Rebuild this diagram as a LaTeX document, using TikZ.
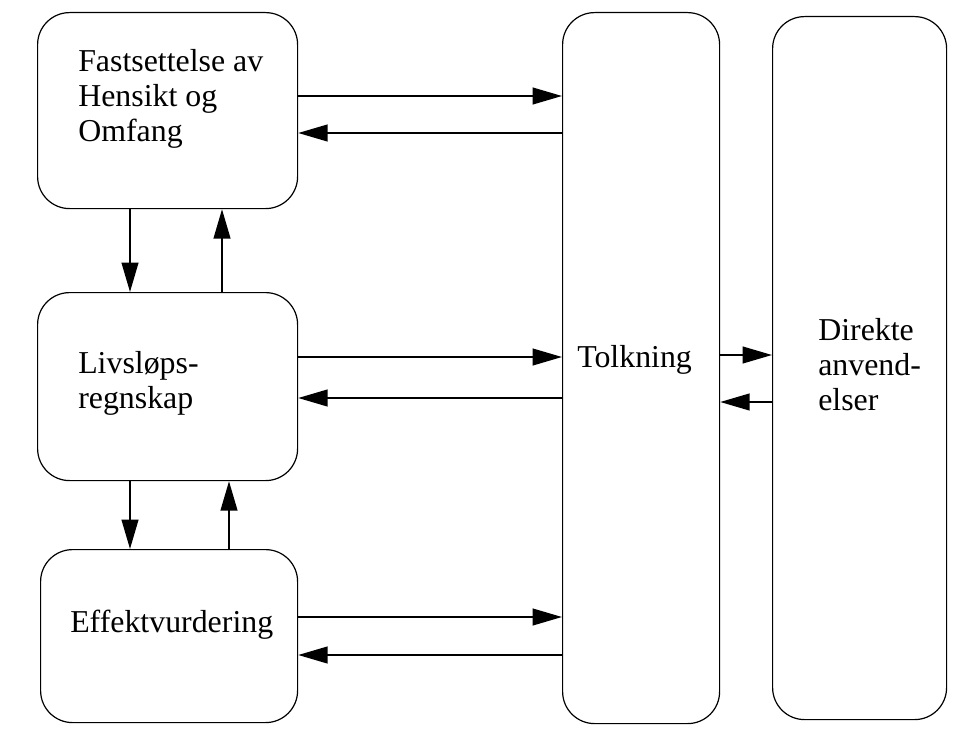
\documentclass[tikz,border=0pt]{standalone}
\usepackage{fontspec}
\setmainfont{Liberation Serif}
\usetikzlibrary{arrows.meta}
\begin{document}
\begin{tikzpicture}[x=0.75pt,y=-0.75pt,
  box/.style={draw, line width=0.9pt, rounded corners=24pt, inner sep=0pt, anchor=north west},
  lbl/.style={anchor=base west, inner sep=0pt, align=left, font=\fontsize{23.9}{26.25}\selectfont},
  arr/.style={line width=1.5pt, -{Triangle[length=22pt,width=12.5pt]}}]
\useasboundingbox (0,0) rectangle (978,742);
\node[box, minimum width=195pt, minimum height=147pt] (b1) at (37,12) {};
\node[box, minimum width=195pt, minimum height=141pt] (b2) at (37,292) {};
\node[box, minimum width=192.75pt, minimum height=129.75pt] (b3) at (40,549) {};
\node[box, minimum width=117.75pt, minimum height=533.25pt] (t) at (562,12) {};
\node[box, minimum width=130.5pt, minimum height=527.25pt] (d) at (772,16) {};
\node[lbl] (l1) at (78,142) {Fastsettelse av\\Hensikt og\\Omfang};
\node[lbl] (l2) at (78,408) {Livsløps-\\regnskap};
\node[lbl] (l3) at (70,632) {Effektvurdering};
\node[lbl] (l4) at (577,367) {Tolkning};
\node[lbl] (l5) at (818,410) {Direkte\\anvend-\\elser};
% horizontal arrows
\draw[arr] (b1.east |- 0,96) -- (t.west |- 0,96);
\draw[arr] (t.west |- 0,133) -- (b1.east |- 0,133);
\draw[arr] (b2.east |- 0,357) -- (t.west |- 0,357);
\draw[arr] (t.west |- 0,398) -- (b2.east |- 0,398);
\draw[arr] (b3.east |- 0,617) -- (t.west |- 0,617);
\draw[arr] (t.west |- 0,655) -- (b3.east |- 0,655);
\draw[arr] (t.east |- 0,355) -- (d.west |- 0,355);
\draw[arr] (d.west |- 0,402) -- (t.east |- 0,402);
% vertical arrows
\draw[arr] (b1.south -| 130,0) -- (b2.north -| 130,0);
\draw[arr] (b2.north -| 222,0) -- (b1.south -| 222,0);
\draw[arr] (b2.south -| 130,0) -- (b3.north -| 130,0);
\draw[arr] (b3.north -| 229,0) -- (b2.south -| 229,0);
\end{tikzpicture}
\end{document}
